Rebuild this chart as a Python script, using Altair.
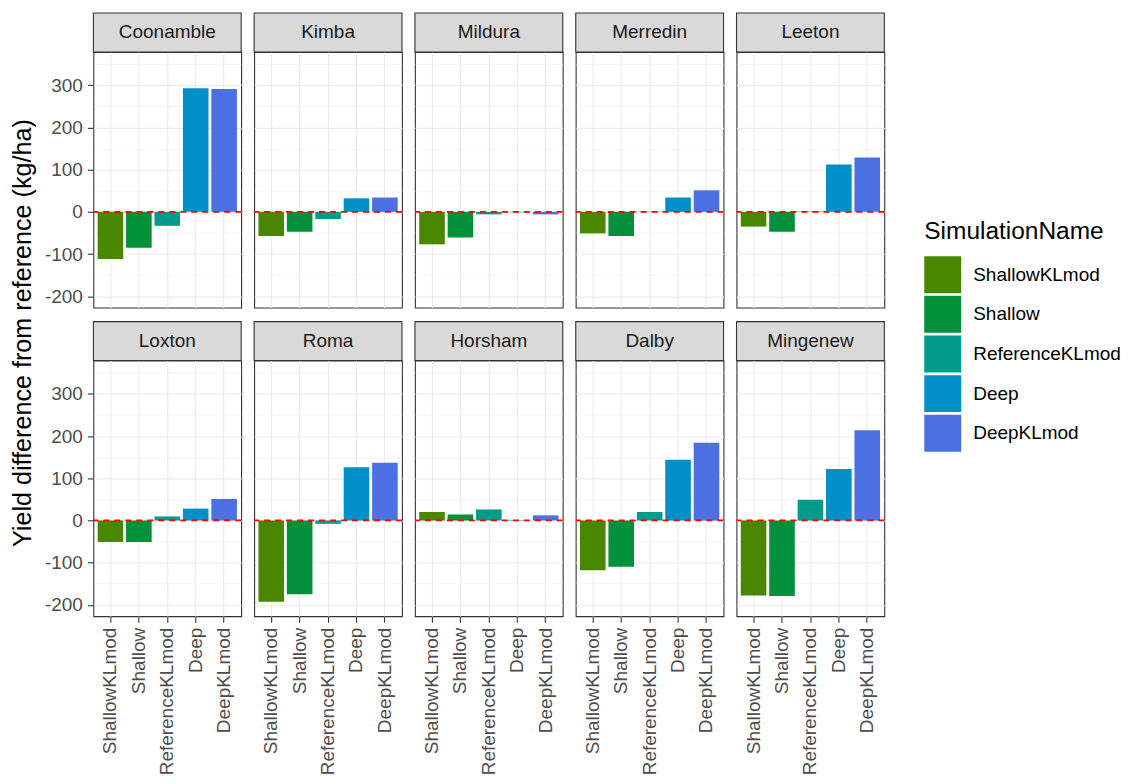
import altair as alt
import pandas as pd

sites = ["Coonamble", "Kimba", "Mildura", "Merredin", "Leeton",
         "Loxton", "Roma", "Horsham", "Dalby", "Mingenew"]
sims = ["ShallowKLmod", "Shallow", "ReferenceKLmod", "Deep", "DeepKLmod"]
colors = ["#4A8700", "#00913A", "#009B8B", "#0090C8", "#4B70E1"]

shallow_kl = [-112, -57, -77, -51, -35, -51, -193, 20, -118, -178]
shallow = [-85, -47, -61, -57, -47, -51, -175, 14, -110, -179]
reference_kl = [-33, -17, -6, 0.6, 1, 9.5, -8, 26, 20, 49]
deep = [293, 32, -1, 34, 112, 28, 126, -1, 144, 122]
deep_kl = [291, 34, -6, 51, 129, 51, 137, 12, 184, 214]

major_ticks = [-200, -100, 0, 100, 200, 300]
minor_ticks = [-150, -50, 50, 150, 250, 350]
y_domain = [-227, 379]
y_title = "Yield difference from reference (kg/ha)"

series = [shallow_kl, shallow, reference_kl, deep, deep_kl]
rows = []
for i, s in enumerate(sites):
    for sim, vals in zip(sims, series):
        rows.append({"site": s, "sim": sim, "value": vals[i]})
df = pd.DataFrame(rows)

W, H, STRIP = 148, 256, 39
FONT = "Liberation Sans"

is_minor = "datum.value % 100 !== 0"

color_enc = alt.Color(
    "sim:N", sort=sims,
    scale=alt.Scale(domain=sims, range=colors),
    legend=alt.Legend(
        title="SimulationName", orient="none", legendX=832, legendY=168,
        titleFontSize=24.5, titleFontWeight="normal", titleColor="black",
        titleFont=FONT, titlePadding=12,
        labelFontSize=19, labelColor="black", labelFont=FONT, labelOffset=12,
        symbolType="square", symbolSize=1369, symbolStrokeWidth=0,
        symbolOpacity=1, rowPadding=2.7,
    ),
)


def panel(idx):
    site = sites[idx]
    row, col = divmod(idx, 5)
    bottom = row == 1
    left = col == 0

    xaxis = alt.Axis(
        title=None, labels=bottom, ticks=bottom, domain=False,
        bandPosition=0.5, labelAngle=270, labelAlign="right",
        labelBaseline="middle", labelFontSize=19, labelColor="#4D4D4D",
        labelFont=FONT, labelPadding=5, tickSize=6, tickColor="#333333",
        tickWidth=1.1, grid=True, gridColor="#EBEBEB", gridWidth=1.1,
    )
    yargs = dict(
        values=major_ticks + minor_ticks, labels=left, ticks=left,
        domain=False, grid=True, gridColor="#EBEBEB",
        gridWidth={"condition": {"test": is_minor, "value": 0.55}, "value": 1.1},
        tickOpacity={"condition": {"test": is_minor, "value": 0}, "value": 1},
        labelExpr="datum.value % 100 === 0 ? '' + datum.value : ''",
        labelFontSize=19, labelColor="#4D4D4D", labelFont=FONT,
        labelPadding=5, tickSize=6, tickColor="#333333", tickWidth=1.1,
        title=None,
    )
    if idx == 0:
        yargs.update(
            title=y_title, titleX=-71, titleY=281, titleAngle=270,
            titleAlign="center", titleBaseline="middle", titleFontSize=25.2,
            titleFontWeight="normal", titleColor="black", titleFont=FONT,
        )
    yaxis = alt.Axis(**yargs)
    yscale = alt.Scale(domain=y_domain, nice=False, zero=False)

    d = df[df["site"] == site]
    bars = alt.Chart(d).mark_bar().encode(
        x=alt.X("sim:N", sort=sims, axis=xaxis,
                scale=alt.Scale(paddingInner=0.1, paddingOuter=0.15)),
        y=alt.Y("value:Q", axis=yaxis, scale=yscale),
        color=color_enc,
    )
    zero = alt.Chart(pd.DataFrame({"value": [0]})).mark_rule(
        color="#FF0000", strokeDash=[6, 5], strokeWidth=1.8
    ).encode(y=alt.Y("value:Q", axis=yaxis, scale=yscale))
    sd = pd.DataFrame({"site": [site]})
    strip = alt.Chart(sd).mark_rect(
        fill="#D9D9D9", stroke="#333333", strokeWidth=1.1
    ).encode(x=alt.value(0), x2=alt.value(W), y=alt.value(-STRIP), y2=alt.value(0))
    label = alt.Chart(sd).mark_text(
        fontSize=19, color="#1A1A1A", font=FONT, baseline="middle"
    ).encode(x=alt.value(W / 2), y=alt.value(-STRIP / 2), text="site:N")
    return alt.layer(bars, zero, strip, label).properties(width=W, height=H)


grid = alt.concat(
    *[panel(i) for i in range(len(sites))],
    columns=5, spacing={"row": 53, "column": 13}, bounds="flush",
).properties(
    padding={"left": 1.5, "top": 2.5, "right": 5, "bottom": 5},
).configure(
    font=FONT,
    view=alt.ViewConfig(stroke="#333333", strokeWidth=1.1),
)

chart = grid
chart.save("out.html", embed_options={"renderer": "svg", "actions": False})
